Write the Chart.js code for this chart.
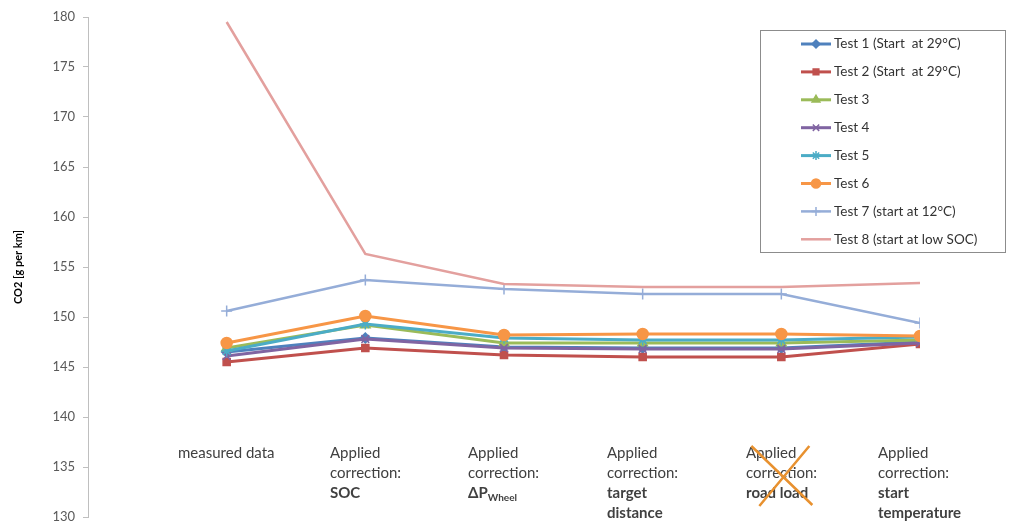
<!DOCTYPE html>
<html>
<head>
<meta charset="utf-8">
<script src="https://cdn.jsdelivr.net/npm/chart.js@4.4.0/dist/chart.umd.min.js"></script>
<style>
  body { margin: 0; background: #fff; }
  #wrap { width: 1019px; height: 525px; position: relative; }
</style>
</head>
<body>
<div id="wrap"><canvas id="chartCO2"></canvas></div>
<script>
// categories on the x axis (drawn as multi-line labels)
const categorias = [
    [{ t: 'measured data' }],
    [{ t: 'Applied' }, { t: 'correction:' }, { t: 'SOC', b: true }],
    [{ t: 'Applied' }, { t: 'correction:' }, { t: 'ΔP', sub: 'Wheel', b: true }],
    [{ t: 'Applied' }, { t: 'correction:' }, { t: 'target', b: true }, { t: 'distance', b: true }],
    [{ t: 'Applied' }, { t: 'correction:' }, { t: 'road load', b: true }],
    [{ t: 'Applied' }, { t: 'correction:' }, { t: 'start', b: true }, { t: 'temperature', b: true }]
];
const categoriaTachada = 4;

const yTicks = [130, 135, 140, 145, 150, 155, 160, 165, 170, 175, 180];

const test1 = [146.5, 147.9, 147.0, 146.9, 146.9, 147.5];
const test2 = [145.5, 146.9, 146.2, 146.0, 146.0, 147.3];
const test3 = [146.9, 149.2, 147.4, 147.4, 147.4, 147.7];
const test4 = [146.1, 147.8, 146.9, 146.8, 146.8, 147.4];
const test5 = [146.6, 149.3, 147.9, 147.7, 147.7, 148.0];
const test6 = [147.4, 150.1, 148.2, 148.3, 148.3, 148.1];
const test7 = [150.6, 153.7, 152.8, 152.3, 152.3, 149.4];
const test8 = [179.5, 156.3, 153.3, 153.0, 153.0, 153.4];

const series = [
    { label: 'Test 1 (Start  at 29°C)', data: test1, color: '#4F81BD', style: 'rectRot', r: 5 },
    { label: 'Test 2 (Start  at 29°C)', data: test2, color: '#C0504D', style: 'rect', r: 5 },
    { label: 'Test 3', data: test3, color: '#9BBB59', style: 'triangle', r: 5.5 },
    { label: 'Test 4', data: test4, color: '#8064A2', style: 'crossRot', r: 5.5 },
    { label: 'Test 5', data: test5, color: '#4BACC6', style: 'star', r: 5.5 },
    { label: 'Test 6', data: test6, color: '#F79646', style: 'circle', r: 5.5 },
    { label: 'Test 7 (start at 12°C)', data: test7, color: '#95ADD8', style: 'cross', r: 5.5 },
    { label: 'Test 8 (start at low SOC)', data: test8, color: '#E3A09E', style: false, r: 0 }
];

const FUENTE = 'Lato, "Open Sans", sans-serif';

const etiquetasX = {
    id: 'etiquetasX',
    afterDraw(chart) {
        const ctx = chart.ctx;
        const x = chart.scales.x;
        const base = chart.chartArea.bottom - 64;
        ctx.save();
        ctx.fillStyle = '#404040';
        ctx.textBaseline = 'middle';
        categorias.forEach((lineas, i) => {
            const px = x.getPixelForValue(i + 1);
            let ancho = 0;
            lineas.forEach(l => {
                ctx.font = (l.b ? 'bold ' : '') + '15px ' + FUENTE;
                let w = ctx.measureText(l.t).width;
                if (l.sub) { ctx.font = 'bold 10px ' + FUENTE; w += ctx.measureText(l.sub).width; }
                ancho = Math.max(ancho, w);
            });
            const izq = Math.round(px - ancho / 2);
            lineas.forEach((l, k) => {
                const y = base + k * 20;
                ctx.font = (l.b ? 'bold ' : '') + '15px ' + FUENTE;
                ctx.fillText(l.t, izq, y);
                if (l.sub) {
                    const w = ctx.measureText(l.t).width;
                    ctx.font = 'bold 10px ' + FUENTE;
                    ctx.fillText(l.sub, izq + w, y + 5);
                }
            });
            if (i === categoriaTachada) {
                ctx.strokeStyle = '#E8912F';
                ctx.lineWidth = 2.5;
                ctx.beginPath();
                ctx.moveTo(px - 30, base - 7);
                ctx.lineTo(px + 31, base + 52);
                ctx.moveTo(px + 28, base - 7);
                ctx.lineTo(px - 22, base + 53);
                ctx.stroke();
            }
        });
        ctx.restore();
    }
};

const leyenda = {
    id: 'leyenda',
    afterDraw(chart) {
        const ctx = chart.ctx;
        ctx.save();
        ctx.fillStyle = '#fff';
        ctx.fillRect(760, 30, 245, 222);
        ctx.strokeStyle = '#8c8c8c';
        ctx.lineWidth = 1;
        ctx.strokeRect(760.5, 30.5, 245, 222);
        chart.data.datasets.forEach((ds, i) => {
            const y = 44 + i * 27.9;
            ctx.strokeStyle = ds.borderColor;
            ctx.lineWidth = ds.borderWidth;
            ctx.beginPath();
            ctx.moveTo(801, y);
            ctx.lineTo(831, y);
            ctx.stroke();
            if (ds.pointStyle) {
                ctx.fillStyle = ds.borderColor;
                ctx.lineWidth = 1.5;
                Chart.helpers.drawPoint(ctx, { pointStyle: ds.pointStyle, radius: ds.pointRadius - 1, rotation: 0, borderWidth: 1.5 }, 816, y);
            }
            ctx.fillStyle = '#333';
            ctx.font = '13.5px ' + FUENTE;
            ctx.textBaseline = 'middle';
            ctx.fillText(ds.label, 834, y);
        });
        ctx.restore();
    }
};

new Chart(document.getElementById('chartCO2'), {
    type: 'line',
    data: {
        datasets: series.map((s, i) => ({
            label: s.label,
            data: s.data.map((v, k) => ({ x: k + 1, y: v })),
            borderColor: s.color,
            backgroundColor: s.color,
            borderWidth: i >= 6 ? 2.5 : 3,
            pointStyle: s.style,
            pointRadius: s.r,
            pointBorderWidth: 1.5,
            pointHoverRadius: s.r,
            tension: 0,
            order: 8 - i
        }))
    },
    options: {
        responsive: true,
        maintainAspectRatio: false,
        animation: false,
        layout: { padding: { left: 0, right: 99, top: 17, bottom: 8 } },
        plugins: {
            legend: { display: false },
            tooltip: { enabled: false }
        },
        scales: {
            x: {
                type: 'linear',
                min: 0,
                max: 6,
                display: false
            },
            y: {
                min: 130,
                max: 180,
                afterBuildTicks: scale => { scale.ticks = yTicks.map(v => ({ value: v })); },
                afterFit: scale => {
                    scale.width = 88;
                    scale.paddingTop = 0;
                    scale.paddingBottom = 0;
                },
                ticks: {
                    color: '#595959',
                    font: { family: FUENTE, size: 13 },
                    padding: 8
                },
                grid: {
                    drawOnChartArea: false,
                    drawTicks: true,
                    tickLength: 5,
                    color: '#BFBFBF'
                },
                border: { display: true, color: '#BFBFBF' },
                title: {
                    display: true,
                    text: 'CO2 [g per km]',
                    color: '#000',
                    font: { family: FUENTE, size: 11, weight: 'bold' },
                    padding: { top: 12, bottom: 0 }
                }
            }
        }
    },
    plugins: [etiquetasX, leyenda]
});
</script>
</body>
</html>
